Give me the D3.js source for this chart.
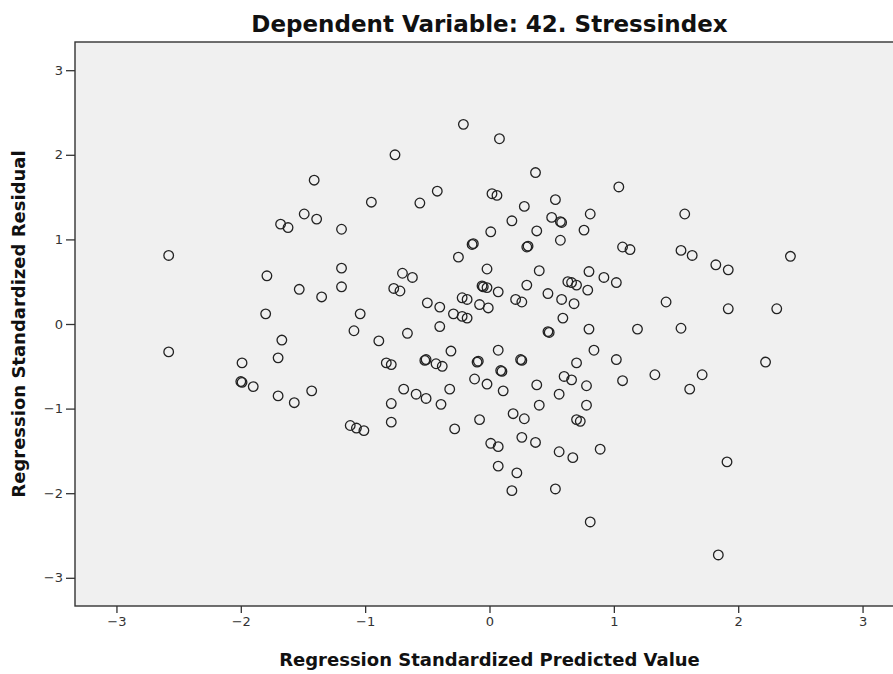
<!DOCTYPE html>
<html>
<head>
<meta charset="utf-8">
<script src="https://cdn.jsdelivr.net/npm/d3@7/dist/d3.min.js"></script>
<style>
  body { margin: 0; background: #ffffff; }
  text { font-family: "DejaVu Sans", sans-serif; }
</style>
</head>
<body>
<div id="scatter"></div>
<script>
// Values (standardized units)
var predicted = [
  -1.41, -0.95, -1.49, -1.39, -1.68, -1.62, -1.19, -2.58, -1.19, -1.79, -1.19, -1.53, -1.35,
  -0.21, 0.08, -0.76, 0.37, -0.42, -0.56, 0.02, 0.06, 0.53, 0.28, 0.81, 0.50, 0.57, 0.58,
  0.18, 0.76, 0.38, 0.01, 0.57, -0.13, -0.14, 0.31, 0.30, -0.25, -0.02, 0.40, 0.80, -0.70,
  -0.62, 0.92, 0.63, 0.66, 0.70, 0.30, -0.06, -0.05, -0.02, -0.77, -0.72, 0.79, 0.07, 0.47,
  1.04, 1.57, 1.07, 1.13, 1.54, 1.63, 1.82, 1.92, 2.42, 1.02,
  -1.80, -1.04, -1.09, -0.89, -1.67, -2.58, -1.70, -1.99, -2.00, -1.99, -1.90, -1.70, -1.57,
  -1.43, -1.12, -1.07, -1.01,
  -0.50, -0.40, -0.22, -0.18, -0.08, -0.01, 0.21, 0.26, 0.58, 0.68, -0.29, -0.22, -0.18,
  -0.40, -0.66, 0.59, 0.47, 0.48, 0.80, 0.84, 0.07, -0.31, -0.83, -0.79, -0.51, -0.52,
  -0.43, -0.38, -0.09, -0.10, 0.25, 0.26, 0.09, 0.10, 0.70, -0.12, -0.02, 0.11, 0.38,
  0.60, 0.66, 0.78, 0.56, -0.69, -0.59, -0.51, -0.32, -0.39, -0.79, -0.79, -0.28, -0.08,
  0.40, 0.19, 0.28, 0.78, 0.70, 0.73, 0.01, 0.07, 0.26, 0.37, 0.56, 0.67, 0.89, 0.07, 0.22,
  1.42, 1.92, 2.31, 1.19, 1.54, 1.02, 2.22, 1.07, 1.33, 1.71, 1.61, 1.91,
  0.18, 0.53, 0.81, 1.84
];

var residual = [
  1.70, 1.44, 1.30, 1.24, 1.18, 1.14, 1.12, 0.81, 0.66, 0.57, 0.44, 0.41, 0.32,
  2.36, 2.19, 2.00, 1.79, 1.57, 1.43, 1.54, 1.52, 1.47, 1.39, 1.30, 1.26, 1.21, 1.20,
  1.22, 1.11, 1.10, 1.09, 0.99, 0.95, 0.94, 0.92, 0.91, 0.79, 0.65, 0.63, 0.62, 0.60,
  0.55, 0.55, 0.50, 0.49, 0.46, 0.46, 0.45, 0.44, 0.43, 0.42, 0.39, 0.40, 0.38, 0.36,
  1.62, 1.30, 0.91, 0.88, 0.87, 0.81, 0.70, 0.64, 0.80, 0.49,
  0.12, 0.12, -0.08, -0.20, -0.19, -0.33, -0.40, -0.46, -0.68, -0.69, -0.74, -0.85, -0.93,
  -0.79, -1.20, -1.23, -1.26,
  0.25, 0.20, 0.31, 0.29, 0.23, 0.19, 0.29, 0.26, 0.29, 0.24, 0.12, 0.09, 0.07,
  -0.03, -0.11, 0.07, -0.09, -0.10, -0.06, -0.31, -0.31, -0.32, -0.46, -0.48, -0.42, -0.43,
  -0.47, -0.50, -0.44, -0.45, -0.42, -0.43, -0.55, -0.56, -0.46, -0.65, -0.71, -0.79, -0.72,
  -0.62, -0.66, -0.73, -0.83, -0.77, -0.83, -0.88, -0.77, -0.95, -0.94, -1.16, -1.24, -1.13,
  -0.96, -1.06, -1.12, -0.96, -1.13, -1.15, -1.41, -1.45, -1.34, -1.40, -1.51, -1.58, -1.48, -1.68, -1.76,
  0.26, 0.18, 0.18, -0.06, -0.05, -0.42, -0.45, -0.67, -0.60, -0.60, -0.77, -1.63,
  -1.97, -1.95, -2.34, -2.73
];

var x_ticks = [-3, -2, -1, 0, 1, 2, 3];
var y_ticks = [-3, -2, -1, 0, 1, 2, 3];

var chart_title = "Dependent Variable: 42. Stressindex";
var x_title = "Regression Standardized Predicted Value";
var y_title = "Regression Standardized Residual";

// Setting Parameters for the chart area
var svg_width = 893;
var svg_height = 674;

var margin = { top: 42, left: 75 };
// the plot frame runs a little past the right edge of the picture
var width = 829;
var height = 564;
var lim = 10 / 3;

var svg = d3.select("#scatter")
    .append("svg")
    .attr("width", svg_width)
    .attr("height", svg_height);

var chart = svg.append("g")
    .attr("transform", `translate(${margin.left}, ${margin.top})`);

var x_scale = d3.scaleLinear().domain([-lim, lim]).range([0, width]);
var y_scale = d3.scaleLinear().domain([-lim, lim]).range([height, 0]);

// plot background
chart.append("rect")
    .attr("width", width)
    .attr("height", height)
    .attr("fill", "#f0f0f0");

// axes
var bottom_axis = d3.axisBottom(x_scale).tickValues(x_ticks).tickFormat(d3.format("d"))
    .tickSizeInner(7).tickSizeOuter(0).tickPadding(4);
var left_axis = d3.axisLeft(y_scale).tickValues(y_ticks).tickFormat(d3.format("d"))
    .tickSizeInner(9).tickSizeOuter(0).tickPadding(3);

var x_axis = chart.append("g")
    .attr("transform", `translate(0, ${height})`)
    .call(bottom_axis);

var y_axis = chart.append("g")
    .call(left_axis);

[x_axis, y_axis].forEach(function(ax) {
    ax.select(".domain").remove();
    ax.selectAll(".tick line").attr("stroke", "#333").attr("stroke-width", 1.3);
    ax.selectAll(".tick text")
        .attr("fill", "#333")
        .style("font-size", "13px")
        .style("font-family", "DejaVu Sans, sans-serif");
});

// frame
chart.append("rect")
    .attr("width", width)
    .attr("height", height)
    .attr("fill", "none")
    .attr("stroke", "#333")
    .attr("stroke-width", 1.4);

// points
var points = predicted.map((d, i) => ({ x: d, y: residual[i] }));

chart.selectAll("circle")
    .data(points)
    .enter()
    .append("circle")
    .attr("cx", d => x_scale(d.x))
    .attr("cy", d => y_scale(d.y))
    .attr("r", 4.8)
    .attr("fill", "none")
    .attr("stroke", "#222")
    .attr("stroke-width", 1.3);

// titles
svg.append("text")
    .attr("x", margin.left + width / 2)
    .attr("y", 32)
    .attr("text-anchor", "middle")
    .style("font-size", "23px")
    .style("font-weight", "bold")
    .attr("fill", "#111")
    .text(chart_title);

svg.append("text")
    .attr("x", margin.left + width / 2)
    .attr("y", 666)
    .attr("text-anchor", "middle")
    .style("font-size", "18px")
    .style("font-weight", "bold")
    .attr("fill", "#111")
    .text(x_title);

svg.append("text")
    .attr("transform", `translate(25, ${margin.top + height / 2}) rotate(-90)`)
    .attr("text-anchor", "middle")
    .style("font-size", "18px")
    .style("font-weight", "bold")
    .attr("fill", "#111")
    .text(y_title);
</script>
</body>
</html>
